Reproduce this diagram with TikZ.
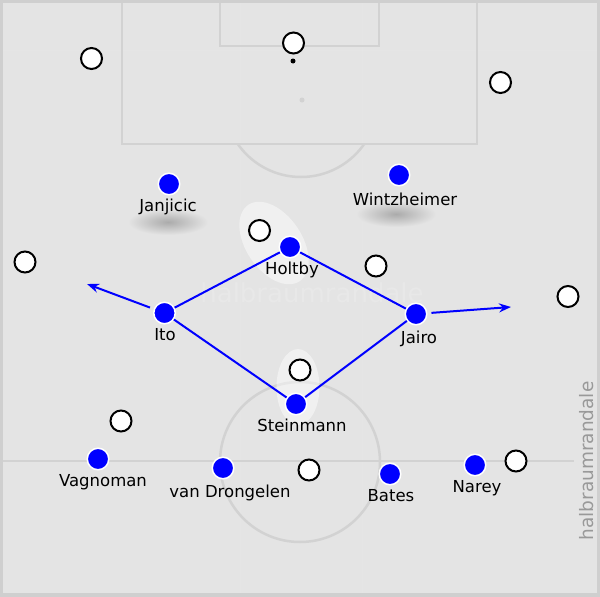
\documentclass[tikz,border=0pt]{standalone}
\usepackage{fontspec}
\setmainfont{DejaVu Sans}
\usetikzlibrary{arrows.meta}
\definecolor{pitch}{HTML}{E4E4E4}
\definecolor{chalk}{HTML}{D2D2D2}
\definecolor{frame}{HTML}{CFCFCF}
\definecolor{shadow}{HTML}{ABABAB}
\begin{document}
\begin{tikzpicture}[x=1pt,y=-1pt,
  own/.style={circle,fill=blue,draw=white,line width=1.5pt,minimum size=21.5pt,inner sep=0pt},
  opp/.style={circle,fill=white,draw=black,line width=2pt,minimum size=21pt,inner sep=0pt},
  player/.style={anchor=base,inner sep=0pt,font=\fontsize{16.5}{18}\selectfont},
  link/.style={blue,line width=2pt},
  run/.style={blue,line width=2pt,-{Stealth[length=12pt,width=9pt]},shorten <=4pt},
  line/.style={chalk,line width=2.5pt}]
\useasboundingbox (0,0) rectangle (600,597);
% pitch
\fill[frame] (0,0) rectangle (600,597);
\fill[pitch] (3,3) rectangle (597,593);
\foreach \x in {240,362}
  \draw[white,opacity=0.06,line width=1pt] (\x,3) -- (\x,593);
\draw[white,opacity=0.06,line width=1pt] (3,50) -- (597,50);
\draw[line] (122,3) -- (122,144) -- (477,144) -- (477,3);
\draw[line] (220,3) -- (220,46) -- (379,46) -- (379,3);
\begin{scope}
  \clip (0,144) rectangle (600,300);
  \draw[line] (301,100) circle [radius=77];
\end{scope}
\fill[chalk] (302,100) circle [radius=2.5];
\draw[line] (3,461) -- (574,461);
\draw[line] (300,462) circle [radius=80];
% shadows and zones
\shade[inner color=shadow,outer color=pitch] (168,222) ellipse [x radius=40,y radius=13];
\shade[inner color=shadow,outer color=pitch] (396,214) ellipse [x radius=40,y radius=13];
\fill[white,opacity=0.45,rotate around={-56:(274,243)}] (274,243) ellipse [x radius=46,y radius=28];
\fill[white,opacity=0.45] (298,387) ellipse [x radius=21.5,y radius=38];
\node at (312,302) (mark) [anchor=base,text=white,text opacity=0.15,font=\fontsize{26}{28}\selectfont] {halbraumrandale};
% opponents
\node at (91.5,58.5) (opp1) [opp] {};
\node at (293.5,43) (opp2) [opp] {};
\node at (500.5,82.5) (opp3) [opp] {};
\node at (259.5,230.5) (opp4) [opp] {};
\node at (376,266) (opp5) [opp] {};
\node at (25,262) (opp6) [opp] {};
\node at (568,296.5) (opp7) [opp] {};
\node at (300,370) (opp8) [opp] {};
\node at (121,421) (opp9) [opp] {};
\node at (309,470) (opp10) [opp] {};
\node at (516,461) (opp11) [opp] {};
\fill (293,61) circle [radius=2.5];
% own team
\node at (169,184) (janjicic) [own] {};
\node at (399,175) (wintzheimer) [own] {};
\node at (290,247) (holtby) [own] {};
\node at (164.5,313) (ito) [own] {};
\node at (416,314) (jairo) [own] {};
\node at (296,404) (steinmann) [own] {};
\node at (98,459) (vagnoman) [own] {};
\node at (223,468) (drongelen) [own] {};
\node at (390,474) (bates) [own] {};
\node at (475,465) (narey) [own] {};
\coordinate (itorun) at (87,284);
\coordinate (jairorun) at (511,307);
\draw [link] (ito) -- (holtby);
\draw [link] (holtby) -- (jairo);
\draw [link] (jairo) -- (steinmann);
\draw [link] (steinmann) -- (ito);
\draw [run] (ito) -- (itorun);
\draw [run] (jairo) -- (jairorun);
% names
\node at (168,211) [player] {Janjicic};
\node at (405,205) [player] {Wintzheimer};
\node at (292,274) [player] {Holtby};
\node at (165,340) [player] {Ito};
\node at (419,343) [player] {Jairo};
\node at (302,431) [player] {Steinmann};
\node at (103,486) [player] {Vagnoman};
\node at (230,497) [player] {van Drongelen};
\node at (391,501) [player] {Bates};
\node at (477,492) [player] {Narey};
\node at (593,461) [anchor=base,rotate=90,text=black!40,font=\fontsize{18.5}{20}\selectfont] {halbraumrandale};
\end{tikzpicture}
\end{document}
